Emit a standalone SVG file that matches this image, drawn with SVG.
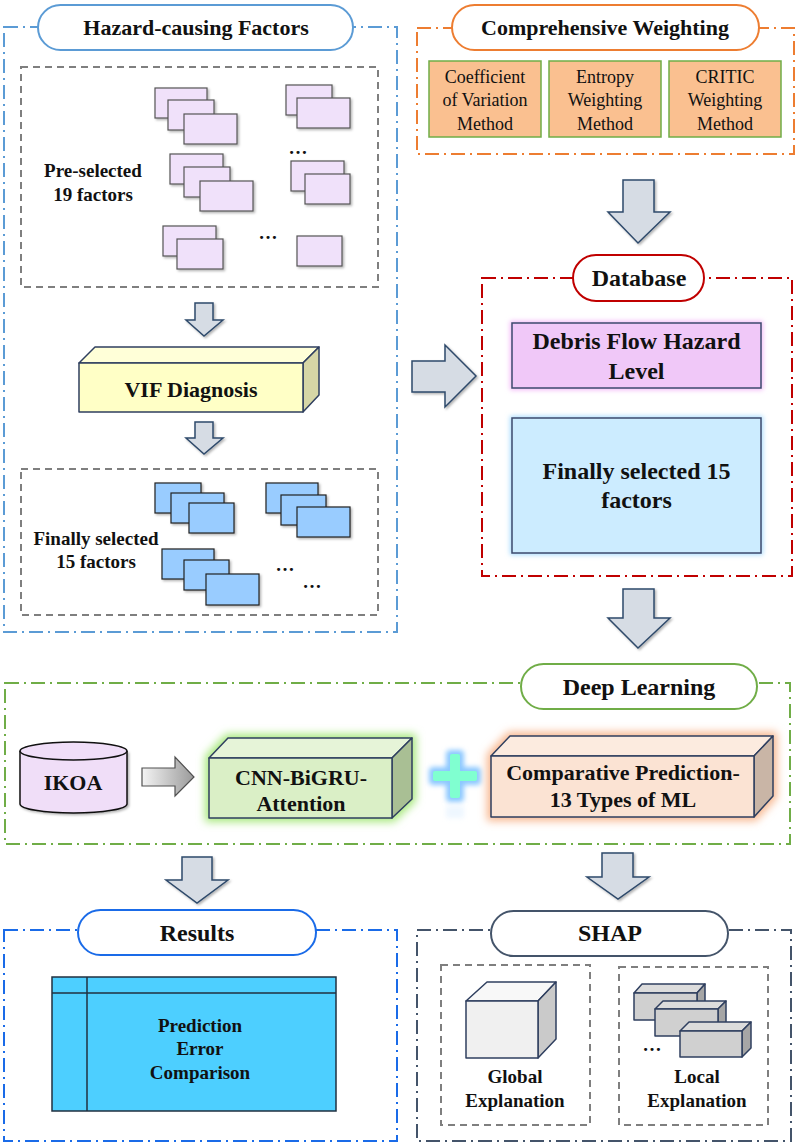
<svg xmlns="http://www.w3.org/2000/svg" width="800" height="1146" viewBox="0 0 800 1146">
<defs>
<style>
.t{font-family:"Liberation Serif","Times New Roman",serif;font-weight:bold;fill:#111;text-anchor:middle}
.r{font-family:"Liberation Serif","Times New Roman",serif;font-weight:normal;fill:#111;text-anchor:middle;font-size:18px}
.dd{fill:none;stroke-width:2;stroke-dasharray:14 5 2 5}
.pill{fill:#fff;stroke-width:2}
.gd{fill:none;stroke:#7f7f7f;stroke-width:2;stroke-dasharray:7 5}
.pk{fill:#F0E1FA;stroke:#555;stroke-width:1.2}
.bl{fill:#99CCFF;stroke:#222;stroke-width:1.2}
.arr{fill:#D6DCE4;stroke:#2F4A6B;stroke-width:1.5;stroke-linejoin:miter}
.ob{fill:#FAC090;stroke:#70AD47;stroke-width:1.5}
.edge{stroke:#2F3F5F;stroke-width:1.5;stroke-linejoin:round}
</style>
<filter id="sh" x="-20%" y="-20%" width="150%" height="150%">
<feDropShadow dx="1.5" dy="1.5" stdDeviation="1.2" flood-color="#000" flood-opacity="0.3"/>
</filter>
<filter id="blur" x="-30%" y="-30%" width="160%" height="160%">
<feGaussianBlur stdDeviation="4"/>
</filter>
<filter id="blur2" x="-50%" y="-50%" width="200%" height="200%">
<feGaussianBlur stdDeviation="2.5"/>
</filter>
<linearGradient id="ga" x1="0" y1="0" x2="1" y2="0">
<stop offset="0" stop-color="#F4F4F4"/>
<stop offset="1" stop-color="#9A9A9A"/>
</linearGradient>
</defs>

<!-- Hazard-causing Factors panel -->
<g id="hazard">
<rect class="dd" x="4" y="27" width="393" height="605" stroke="#5B9BD5"/>
<rect class="pill" x="38" y="5" width="315" height="45" rx="22.5" stroke="#5B9BD5"/>
<text class="t" x="196" y="35" font-size="22">Hazard-causing Factors</text>
</g>

<g id="preselected">
<rect class="gd" x="21" y="67" width="357" height="220"/>
<g filter="url(#sh)">
<rect class="pk" x="155" y="88" width="52" height="30"/>
<rect class="pk" x="168" y="100" width="46" height="30"/>
<rect class="pk" x="184" y="114" width="53" height="30"/>
<rect class="pk" x="286" y="85" width="46" height="30"/>
<rect class="pk" x="297" y="98" width="53" height="30"/>
<rect class="pk" x="170" y="154" width="53" height="30"/>
<rect class="pk" x="184" y="167" width="46" height="30"/>
<rect class="pk" x="200" y="181" width="53" height="30"/>
<rect class="pk" x="291" y="161" width="53" height="30"/>
<rect class="pk" x="305" y="174" width="45" height="30"/>
<rect class="pk" x="163" y="226" width="53" height="30"/>
<rect class="pk" x="177" y="239" width="46" height="30"/>
<rect class="pk" x="297" y="236" width="45" height="30"/>
</g>
<text class="t" x="298" y="154" font-size="19">…</text>
<text class="t" x="268" y="239" font-size="19">…</text>
<text class="t" x="93" y="177" font-size="19">Pre-selected</text>
<text class="t" x="93" y="201" font-size="19">19 factors</text>
</g>

<g id="vif">
<polygon points="79,363 95,347 319,347 303,363" fill="#FFFFD8" class="edge"/>
<polygon points="303,363 319,347 319,395 303,412" fill="#D6D6A6" class="edge"/>
<rect x="79" y="363" width="224" height="49" fill="#FFFFC6" class="edge"/>
<text class="t" x="191" y="397" font-size="22">VIF Diagnosis</text>
</g>

<g id="finally15left">
<rect class="gd" x="21" y="469" width="357" height="146"/>
<g filter="url(#sh)">
<rect class="bl" x="155" y="483" width="46" height="30"/>
<rect class="bl" x="171" y="493" width="53" height="30"/>
<rect class="bl" x="189" y="503" width="45" height="30"/>
<rect class="bl" x="266" y="483" width="52" height="30"/>
<rect class="bl" x="281" y="495" width="45" height="30"/>
<rect class="bl" x="297" y="507" width="53" height="30"/>
<rect class="bl" x="162" y="549" width="52" height="30"/>
<rect class="bl" x="184" y="560" width="45" height="30"/>
<rect class="bl" x="206" y="574" width="53" height="31"/>
</g>
<text class="t" x="285" y="571" font-size="19">…</text>
<text class="t" x="312" y="588" font-size="19">…</text>
<text class="t" x="96" y="545" font-size="19">Finally selected</text>
<text class="t" x="96" y="568" font-size="19">15 factors</text>
</g>

<!-- Comprehensive Weighting -->
<g id="weighting">
<rect class="dd" x="417" y="28" width="377" height="126" stroke="#ED7D31"/>
<rect class="pill" x="452" y="5" width="307" height="45" rx="22.5" stroke="#ED7D31"/>
<text class="t" x="605" y="35" font-size="22">Comprehensive Weighting</text>
<rect class="ob" x="429" y="61" width="112" height="76"/>
<rect class="ob" x="549" y="61" width="112" height="76"/>
<rect class="ob" x="669" y="61" width="112" height="76"/>
<text class="r" x="485" y="83">Coefficient</text>
<text class="r" x="485" y="106">of Variation</text>
<text class="r" x="485" y="130">Method</text>
<text class="r" x="605" y="83">Entropy</text>
<text class="r" x="605" y="106">Weighting</text>
<text class="r" x="605" y="130">Method</text>
<text class="r" x="725" y="83">CRITIC</text>
<text class="r" x="725" y="106">Weighting</text>
<text class="r" x="725" y="130">Method</text>
</g>

<!-- Database -->
<g id="database">
<rect class="dd" x="482" y="278" width="310" height="298" stroke="#C00000"/>
<rect class="pill" x="573" y="255" width="131" height="46" rx="23" stroke="#C00000"/>
<text class="t" x="639" y="286" font-size="24">Database</text>
<rect x="510" y="321" width="253" height="69" fill="#F3B8F8" filter="url(#blur2)"/>
<rect x="512" y="323" width="249" height="65" fill="#F0C8F8" stroke="#3C4A6E" stroke-width="1.5"/>
<text class="t" x="636.5" y="349" font-size="24">Debris Flow Hazard</text>
<text class="t" x="636.5" y="379" font-size="24">Level</text>
<rect x="510" y="416" width="253" height="139" fill="#A8DCFF" filter="url(#blur2)"/>
<rect x="512" y="418" width="249" height="135" fill="#CCECFF" stroke="#3C4A6E" stroke-width="1.5"/>
<text class="t" x="636.5" y="479" font-size="24">Finally selected 15</text>
<text class="t" x="636.5" y="508" font-size="24">factors</text>
</g>

<!-- Deep Learning -->
<g id="deeplearning">
<rect class="dd" x="5" y="683" width="785" height="161" stroke="#70AD47"/>
<rect class="pill" x="521" y="664" width="236" height="45" rx="22.5" stroke="#70AD47"/>
<text class="t" x="639" y="695" font-size="24">Deep Learning</text>
</g>

<g id="ikoa">
<path d="M20,751 V804 A53.5,9 0 0 0 127,804 V751" fill="#F0DEF8" stroke="#111" stroke-width="1.5" filter="url(#sh)"/>
<ellipse cx="73.5" cy="751" rx="53.5" ry="9" fill="#F0DEF8" stroke="#111" stroke-width="1.5"/>
<text class="t" x="73" y="790" font-size="22">IKOA</text>
</g>

<g id="cnn">
<polygon points="205,756 226,734 416,734 416,801 394,822 205,822" fill="#A8E87E" filter="url(#blur)"/>
<polygon points="209,758 228,738 412,738 392,758" fill="#E6F4D8" class="edge"/>
<polygon points="392,758 412,738 412,799 392,818" fill="#A9BF94" class="edge"/>
<rect x="209" y="758" width="183" height="60" fill="#DAEFC6" class="edge"/>
<text class="t" x="301" y="785" font-size="22">CNN-BiGRU-</text>
<text class="t" x="301" y="811" font-size="22">Attention</text>
</g>

<g id="plus">
<g filter="url(#blur2)" fill="#8CC8FF">
<rect x="429" y="767" width="52" height="18" rx="4"/>
<rect x="446" y="750" width="18" height="52" rx="4"/>
</g>
<g fill="#80FFD0">
<rect x="433" y="771" width="44" height="10" rx="2"/>
<rect x="450" y="754" width="10" height="44" rx="2"/>
</g>
<rect x="446" y="806" width="18" height="12" fill="#DDEEFF" opacity="0.5" filter="url(#blur2)"/>
</g>

<g id="comparative">
<polygon points="487,754 508,732 777,732 777,798 756,821 487,821" fill="#F8B890" filter="url(#blur)"/>
<polygon points="491,756 510,736 773,736 754,756" fill="#FCEBDF" class="edge"/>
<polygon points="754,756 773,736 773,796 754,817" fill="#C9B5A6" class="edge"/>
<rect x="491" y="756" width="263" height="61" fill="#FBE3D3" class="edge"/>
<text class="t" x="623" y="780" font-size="22">Comparative Prediction-</text>
<text class="t" x="623" y="807" font-size="22">13 Types of ML</text>
</g>

<!-- Results -->
<g id="results">
<rect class="dd" x="4" y="930" width="393" height="211" stroke="#1A6BE8"/>
<rect class="pill" x="78" y="910" width="238" height="45" rx="22.5" stroke="#1A6BE8"/>
<text class="t" x="197" y="941" font-size="24">Results</text>
<rect x="52" y="977" width="284" height="134" fill="#4DCFFF" stroke="#203040" stroke-width="1.5"/>
<line x1="52" y1="993" x2="336" y2="993" stroke="#203040" stroke-width="1.5"/>
<line x1="87" y1="977" x2="87" y2="1111" stroke="#203040" stroke-width="1.5"/>
<text class="t" x="200" y="1032" font-size="19">Prediction</text>
<text class="t" x="200" y="1055" font-size="19">Error</text>
<text class="t" x="200" y="1079" font-size="19">Comparison</text>
</g>

<!-- SHAP -->
<g id="shap">
<rect class="dd" x="417" y="930" width="374" height="211" stroke="#44546A"/>
<rect class="pill" x="491" y="911" width="237" height="45" rx="22.5" stroke="#44546A"/>
<text class="t" x="610" y="941" font-size="24">SHAP</text>
</g>

<g id="global">
<rect class="gd" x="441" y="965" width="149" height="160"/>
<polygon points="466,1001 487,982 556,982 538,1001" fill="#F8F8F8" class="edge"/>
<polygon points="538,1001 556,982 556,1039 538,1058" fill="#CACACA" class="edge"/>
<rect x="466" y="1001" width="72" height="57" fill="#F0F0F0" class="edge"/>
<text class="t" x="515" y="1083" font-size="19">Global</text>
<text class="t" x="515" y="1107" font-size="19">Explanation</text>
</g>

<g id="local">
<rect class="gd" x="619" y="967" width="149" height="158"/>
<polygon points="634,993 642,984 705,984 697,993" fill="#DCDCDC" class="edge"/>
<polygon points="697,993 705,984 705,1011 697,1020" fill="#A6A6A6" class="edge"/>
<rect x="634" y="993" width="63" height="27" fill="#D0D0D0" class="edge"/>
<polygon points="655,1009 663,1001 726,1001 718,1009" fill="#DCDCDC" class="edge"/>
<polygon points="718,1009 726,1001 726,1028 718,1036" fill="#A6A6A6" class="edge"/>
<rect x="655" y="1009" width="63" height="27" fill="#D0D0D0" class="edge"/>
<polygon points="680,1031 689,1022 751,1022 742,1031" fill="#DCDCDC" class="edge"/>
<polygon points="742,1031 751,1022 751,1048 742,1057" fill="#A6A6A6" class="edge"/>
<rect x="680" y="1031" width="62" height="26" fill="#D0D0D0" class="edge"/>
<text class="t" x="652" y="1051" font-size="19">…</text>
<text class="t" x="697" y="1083" font-size="19">Local</text>
<text class="t" x="697" y="1107" font-size="19">Explanation</text>
</g>

<!-- Connectors -->
<g id="connectors">
<g filter="url(#sh)">
<path class="arr" d="M195,303 H213 V320 H223 L204,336 L186,320 H195 Z"/>
<path class="arr" d="M195,422 H213 V438 H223 L204,454 L186,438 H195 Z"/>
<path class="arr" d="M623,180 H654 V212 H670 L638,243 L608,212 H623 Z"/>
<path class="arr" d="M412,361 H445 V345 L476,376 L445,407 V392 H412 Z"/>
<path class="arr" d="M623,589 H654 V618 H670 L638,648 L608,618 H623 Z"/>
<path class="arr" d="M182,857 H212 V880 H228 L197,903 L166,880 H182 Z"/>
<path class="arr" d="M602,853 H633 V877 H649 L618,899 L587,877 H602 Z"/>
</g>
<path d="M142,768 H175 V757 L194,777 L175,796 V786 H142 Z" fill="url(#ga)" stroke="#505050" stroke-width="1.2"/>
</g>
</svg>
